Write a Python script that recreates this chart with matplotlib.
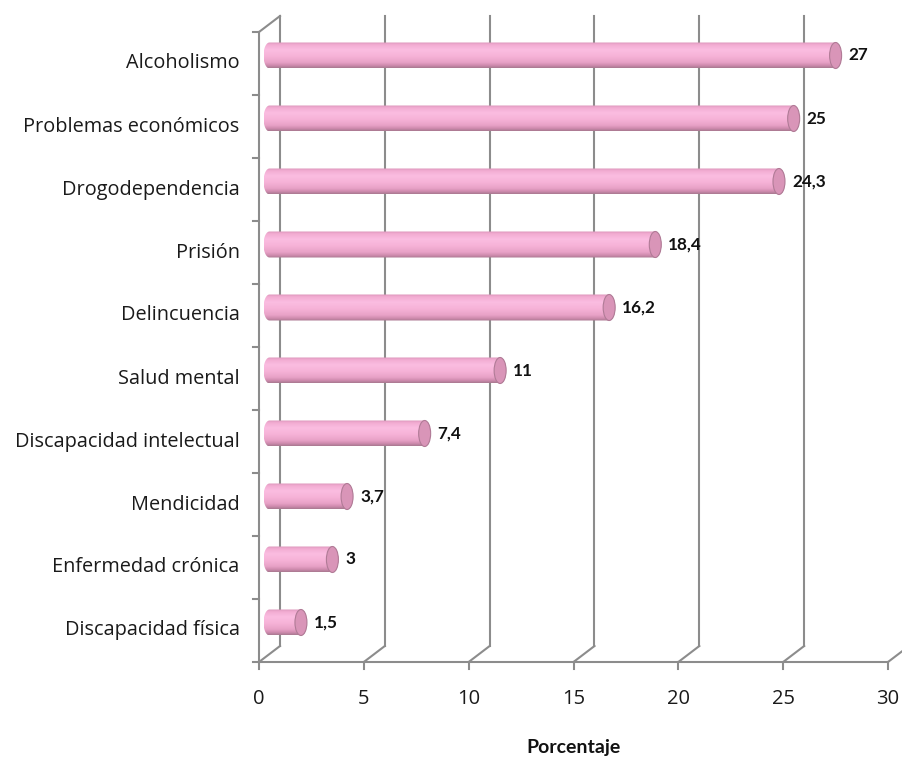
import matplotlib
matplotlib.use("Agg")
import matplotlib.pyplot as plt
import numpy as np
from matplotlib.patches import Ellipse, PathPatch
from matplotlib.path import Path
from matplotlib.colors import LinearSegmentedColormap

categories = ["Discapacidad física", "Enfermedad crónica", "Mendicidad",
              "Discapacidad intelectual", "Salud mental", "Delincuencia",
              "Prisión", "Drogodependencia", "Problemas económicos", "Alcoholismo"]
values = [1.5, 3, 3.7, 7.4, 11, 16.2, 18.4, 24.3, 25, 27]
value_labels = ["1,5", "3", "3,7", "7,4", "11", "16,2", "18,4", "24,3", "25", "27"]
xticks = [0, 5, 10, 15, 20, 25, 30]
xlabel = "Porcentaje"

FONT = "Open Sans"
BFONT = "Lato"
W, H = 903, 762
fig = plt.figure(figsize=(W / 100, H / 100), dpi=100)
left_px, right_px, top_px, bot_px = 259, 888, 32, 662
ax = fig.add_axes([left_px / W, (H - bot_px) / H, (right_px - left_px) / W, (bot_px - top_px) / H])
xmin, xmax = 0, 30
ymin, ymax = -0.5, len(categories) - 0.5
ax.set_xlim(xmin, xmax)
ax.set_ylim(ymin, ymax)
ax.axis("off")

px_x = (right_px - left_px) / (xmax - xmin)
px_y = (bot_px - top_px) / (ymax - ymin)
DX = 21 / px_x
DY = 16 / px_y

gc = "#8c8c8c"
lw = 1.5
for v in xticks:
    ax.plot([v + DX, v + DX], [ymin + DY, ymax + DY], color=gc, lw=lw, clip_on=False, zorder=1)
    ax.plot([v, v + DX], [ymin, ymin + DY], color=gc, lw=lw, clip_on=False, zorder=1)
    ax.plot([v, v], [ymin, ymin - 7 / px_y], color=gc, lw=lw, clip_on=False, zorder=1)
    ax.annotate(str(v), (v, ymin), xytext=(0, -27), textcoords="offset points",
                ha="center", va="center", fontsize=14.5, family=FONT, color="#1a1a1a",
                annotation_clip=False)
ax.plot([xmin, xmax], [ymin, ymin], color=gc, lw=lw, clip_on=False, zorder=1)
ax.plot([0, 0], [ymin, ymax], color=gc, lw=lw, clip_on=False, zorder=1)
ax.plot([0, DX], [ymax, ymax + DY], color=gc, lw=lw, clip_on=False, zorder=1)
for k in range(len(categories) + 1):
    yb = ymin + k
    ax.plot([0, -6 / px_x], [yb, yb], color=gc, lw=lw, clip_on=False, zorder=1)

for i, c in enumerate(categories):
    ax.annotate(c, (0, i), xytext=(-14, 0), textcoords="offset points",
                ha="right", va="center", fontsize=14.3, family=FONT, color="#1a1a1a",
                annotation_clip=False)

cmap = LinearSegmentedColormap.from_list("cyl", [
    (0.0, "#dc95ba"), (0.1, "#f2acd2"), (0.3, "#fbbde1"), (0.55, "#f6b2d7"),
    (0.78, "#e8a2c7"), (0.9, "#cf8bae"), (1.0, "#a87890")])
grad = np.linspace(0, 1, 200).reshape(-1, 1)

h = 26 / px_y
a = 6 / px_x
for i, v in enumerate(values):
    x0 = DX / 2
    x1 = v + DX / 2
    yc = i + DY / 2
    t = np.linspace(-np.pi / 2, np.pi / 2, 40)
    right = np.column_stack([x1 + a * np.cos(t), yc + h / 2 * np.sin(t)])
    t2 = np.linspace(np.pi / 2, 3 * np.pi / 2, 40)
    leftc = np.column_stack([x0 + a * np.cos(t2), yc + h / 2 * np.sin(t2)])
    verts = np.vstack([right, leftc, right[:1]])
    codes = [Path.MOVETO] + [Path.LINETO] * (len(verts) - 2) + [Path.CLOSEPOLY]
    patch = PathPatch(Path(verts, codes), facecolor="none", edgecolor="none")
    ax.add_patch(patch)
    im = ax.imshow(grad, cmap=cmap, aspect="auto", origin="upper",
                   extent=[x0 - a, x1 + a, yc - h / 2, yc + h / 2], zorder=3)
    im.set_clip_path(patch)
    cap = Ellipse((x1, yc), 2 * a, h, facecolor="#d995b8", edgecolor="#b07b96", lw=0.8, zorder=4)
    ax.add_patch(cap)
    ax.annotate(value_labels[i], (x1 + a, yc), xytext=(5, 0), textcoords="offset points",
                ha="left", va="center", fontsize=12.3, fontweight="bold", family=BFONT,
                color="#111111", annotation_clip=False)

ax.set_xlim(xmin, xmax)
ax.set_ylim(ymin, ymax)

fig.text(573 / W, 1 - 747 / H, xlabel, ha="center", va="center", fontsize=14,
         fontweight="bold", family=BFONT, color="#111111")

fig.savefig("out.png", dpi=100)
